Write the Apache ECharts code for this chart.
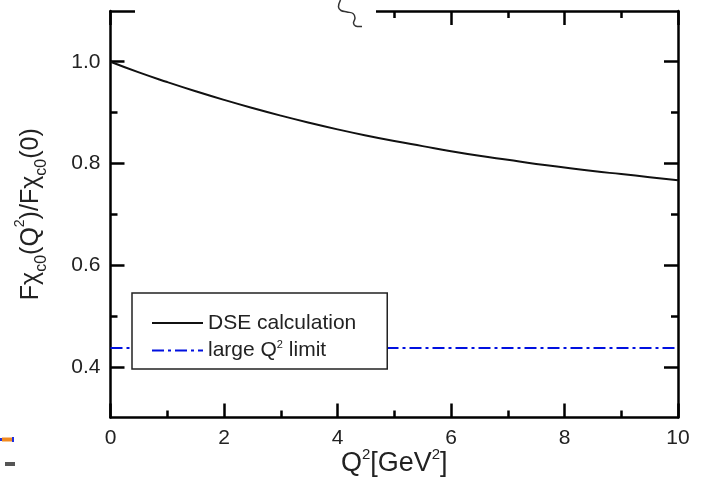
<!DOCTYPE html>
<html>
<head>
<meta charset="utf-8">
<script src="https://cdn.jsdelivr.net/npm/echarts@6/dist/echarts.min.js"></script>
<style>
  html, body { margin: 0; padding: 0; background: #fff; }
  #chart { width: 704px; height: 494px; }
</style>
</head>
<body>
<div id="chart"></div>
<script>
// Q^2 grid (GeV^2) and the DSE form-factor ratio F(Q^2)/F(0)
const q2 = [0, 0.5, 1, 1.5, 2, 2.5, 3, 3.5, 4, 4.5, 5, 5.5, 6, 6.5, 7, 7.5, 8, 8.5, 9, 9.5, 10];
const dseRatio = [1.000, 0.979, 0.960, 0.942, 0.925, 0.909, 0.894, 0.880, 0.867, 0.855, 0.844,
                  0.834, 0.824, 0.815, 0.807, 0.799, 0.792, 0.785, 0.779, 0.773, 0.767];

// large-Q^2 asymptotic value, drawn across the full range
const limitQ2 = [0, 10];
const limitValue = [0.437, 0.437];

// axis ticks
const yLabelValues = [0.4, 0.6, 0.8, 1.0];
const yMinorValues = [0.5, 0.7, 0.9];

const FONT = 'Liberation Sans, Arial, sans-serif';
const INK = '#000';
const TXT = '#222';
const GRID = { left: 110.5, right: 26, top: 10.9, bottom: 76.4, containLabel: false };

const chart = echarts.init(document.getElementById('chart'));

const tickLine = { color: INK, width: 2.5 };

const xBase = {
  type: 'value', min: 0, max: 10, interval: 2,
  axisLine: { show: true, onZero: false, lineStyle: tickLine },
  axisTick: { show: true, inside: true, length: 14, lineStyle: tickLine },
  minorTick: { show: true, splitNumber: 2, length: 7, lineStyle: tickLine },
  splitLine: { show: false }, minorSplitLine: { show: false }
};

const yMajor = (pos, labels) => ({
  type: 'value', gridIndex: 0, min: 0.3, max: 1.1, position: pos,
  axisLine: { show: true, onZero: false, lineStyle: tickLine },
  axisTick: { show: true, inside: true, length: 14, customValues: yLabelValues, lineStyle: tickLine },
  axisLabel: labels ? {
    show: true, customValues: yLabelValues, margin: 10, fontSize: 21, color: TXT, fontFamily: FONT,
    formatter: v => v.toFixed(1)
  } : { show: false },
  splitLine: { show: false }
});

// minor ticks live on a second, coincident grid so each side has one axis per grid
const yMinor = (pos) => ({
  type: 'value', gridIndex: 1, min: 0.3, max: 1.1, position: pos,
  axisLine: { show: false, onZero: false },
  axisTick: { show: true, inside: true, length: 7, customValues: yMinorValues, lineStyle: tickLine },
  axisLabel: { show: false },
  splitLine: { show: false }
});

const yTitle = Object.assign(yMajor('left', true), {
  name: '{n|Fχ}{s|c0}{n|(Q}{p|2}{n|)/Fχ}{s|c0}{n|(0)}',
  nameLocation: 'middle',
  nameGap: 61,
  nameMoveOverlap: false,
  nameTextStyle: {
    fontFamily: FONT, color: TXT,
    rich: {
      n: { fontSize: 25, lineHeight: 36, verticalAlign: 'middle', fontFamily: FONT, color: TXT },
      s: { fontSize: 16, lineHeight: 18, verticalAlign: 'bottom', fontFamily: FONT, color: TXT },
      p: { fontSize: 14, lineHeight: 26, verticalAlign: 'top', fontFamily: FONT, color: TXT }
    }
  }
});

chart.setOption({
  animation: false,
  backgroundColor: '#fff',
  grid: [GRID, GRID],
  xAxis: [
    Object.assign({}, xBase, {
      gridIndex: 0, position: 'bottom',
      axisLabel: { show: true, margin: 10, fontSize: 21, color: TXT, fontFamily: FONT },
      name: '{n|Q}{p|2}{n|[GeV}{p|2}{n|]}', nameLocation: 'middle', nameGap: 30,
      nameMoveOverlap: false,
      nameTextStyle: {
        color: TXT, fontFamily: FONT,
        rich: {
          n: { fontSize: 27, lineHeight: 32, verticalAlign: 'middle', fontFamily: FONT, color: TXT },
          p: { fontSize: 15, lineHeight: 22, verticalAlign: 'top', fontFamily: FONT, color: TXT }
        }
      }
    }),
    Object.assign({}, xBase, { gridIndex: 0, position: 'top', axisLabel: { show: false } }),
    { type: 'value', gridIndex: 1, min: 0, max: 10, show: false }
  ],
  yAxis: [yTitle, yMajor('right', false), yMinor('left'), yMinor('right')],
  legend: {
    orient: 'vertical',
    left: 132, top: 293,
    padding: [19.5, 31, 8, 19],
    itemWidth: 51, itemHeight: 14, itemGap: 6,
    backgroundColor: '#fff',
    borderColor: '#222', borderWidth: 1.5, borderRadius: 0,
    itemStyle: { opacity: 0 },
    textStyle: {
      fontSize: 21, color: TXT, fontFamily: FONT,
      rich: {
        t: { fontSize: 21, lineHeight: 22, verticalAlign: 'middle', fontFamily: FONT, color: TXT },
        p: { fontSize: 11, lineHeight: 14, verticalAlign: 'top', fontFamily: FONT, color: TXT }
      }
    },
    formatter: name => name === 'large Q² limit' ? '{t|large Q}{p|2}{t| limit}' : '{t|' + name + '}',
    data: ['DSE calculation', 'large Q² limit']
  },
  series: [
    {
      name: 'DSE calculation', type: 'line', xAxisIndex: 0, yAxisIndex: 0,
      data: q2.map((x, i) => [x, dseRatio[i]]),
      smooth: true, symbol: 'none',
      lineStyle: { color: '#111', width: 2 }, itemStyle: { color: '#111', opacity: 0 },
      z: 3
    },
    {
      name: 'large Q² limit', type: 'line', xAxisIndex: 0, yAxisIndex: 0,
      data: limitQ2.map((x, i) => [x, limitValue[i]]),
      symbol: 'none',
      lineStyle: { color: '#0010e0', width: 2, type: [12, 4, 3, 4] }, itemStyle: { color: '#0010e0', opacity: 0 },
      z: 2
    }
  ],
  graphic: [
    // break in the top frame
    { type: 'rect', z: 100, shape: { x: 135, y: 0, width: 241, height: 28 }, style: { fill: '#fff' } },
    {
      type: 'polyline', z: 101,
      shape: { points: [[340.5, 0], [338.5, 7], [341, 10.5], [347, 12], [353, 13.5], [355, 18], [353.5, 23], [355.5, 26], [362, 26.5]], smooth: 0.4 },
      style: { stroke: '#333', lineWidth: 1.5, fill: null }
    },
    // small marks at the left edge
    { type: 'rect', z: 100, shape: { x: 0, y: 438, width: 2, height: 3 }, style: { fill: '#2030e0' } },
    { type: 'rect', z: 100, shape: { x: 2, y: 437.5, width: 10, height: 4 }, style: { fill: '#f08a20' } },
    { type: 'rect', z: 100, shape: { x: 12, y: 437, width: 2, height: 5 }, style: { fill: '#2030e0' } },
    { type: 'rect', z: 100, shape: { x: 5, y: 462, width: 10, height: 4 }, style: { fill: '#555' } }
  ]
});
</script>
</body>
</html>
